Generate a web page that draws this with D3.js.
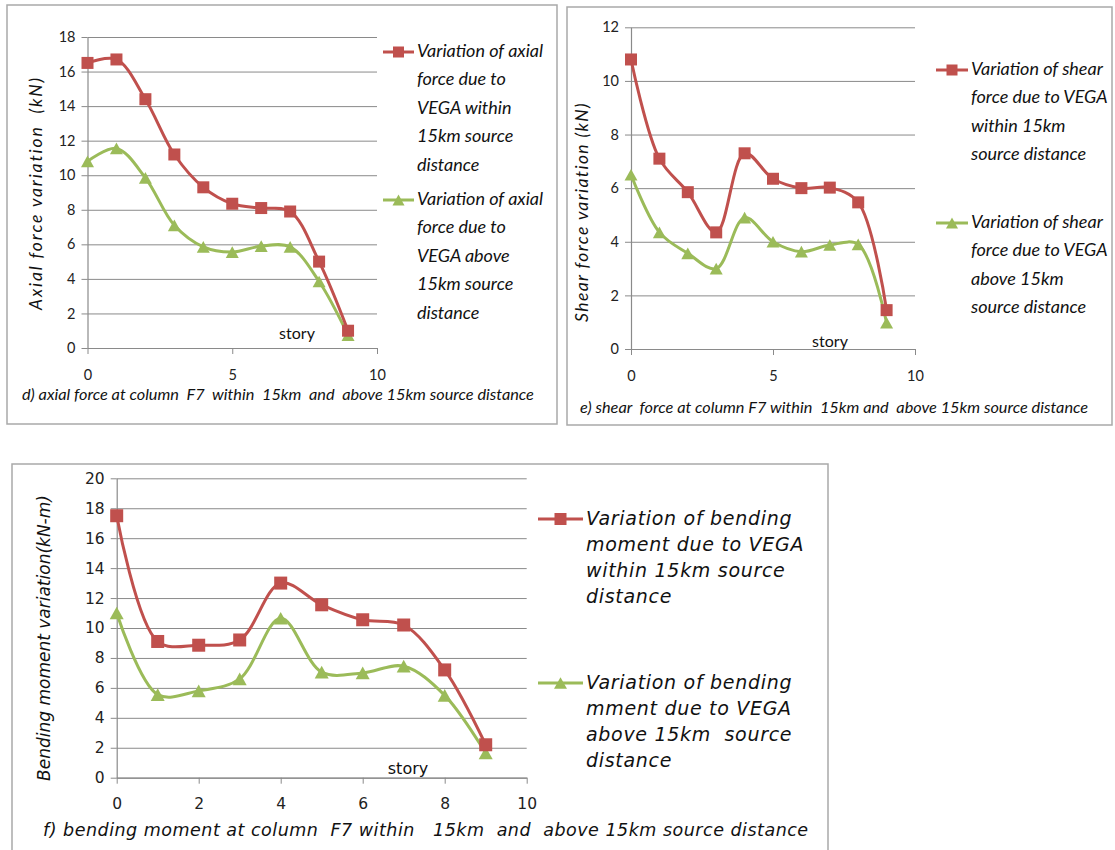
<!DOCTYPE html>
<html>
<head>
<meta charset="utf-8">
<script src="https://cdn.jsdelivr.net/npm/d3@7"></script>
<style>
  html, body { margin: 0; padding: 0; background: #fff; }
  svg { display: block; }
</style>
</head>
<body>
<svg id="chart" width="1115" height="850"></svg>
<script>
// Story numbers along the column
const stories = [0, 1, 2, 3, 4, 5, 6, 7, 8, 9];

// d) axial force at column F7 (kN)
const axialWithin = [16.5, 16.7, 14.4, 11.2, 9.3, 8.35, 8.1, 7.9, 5.0, 1.0];
const axialAbove  = [10.8, 11.55, 9.85, 7.1, 5.85, 5.55, 5.9, 5.85, 3.85, 0.75];

// e) shear force at column F7 (kN)
const shearWithin = [10.8, 7.1, 5.85, 4.35, 7.3, 6.35, 6.0, 6.02, 5.47, 1.45];
const shearAbove  = [6.5, 4.35, 3.57, 3.0, 4.9, 4.0, 3.63, 3.88, 3.9, 0.98];

// f) bending moment at column F7 (kN-m)
const momentWithin = [17.5, 9.1, 8.85, 9.2, 13.0, 11.55, 10.55, 10.2, 7.2, 2.2];
const momentAbove  = [11.0, 5.55, 5.8, 6.6, 10.65, 7.05, 7.0, 7.45, 5.5, 1.65];

// Tick labels
const axialYTicks = [0, 2, 4, 6, 8, 10, 12, 14, 16, 18];
const shearYTicks = [0, 2, 4, 6, 8, 10, 12];
const momentYTicks = [0, 2, 4, 6, 8, 10, 12, 14, 16, 18, 20];
const xTicksCoarse = [0, 5, 10];
const xTicksFine = [0, 2, 4, 6, 8, 10];

// Legend texts
const axialLegend = [
  ["Variation of axial", "force due to", "VEGA within", "15km source", "distance"],
  ["Variation of axial", "force due to", "VEGA above", "15km source", "distance"]
];
const shearLegend = [
  ["Variation of shear", "force due to VEGA", "within 15km", "source distance"],
  ["Variation of shear", "force due to VEGA", "above 15km", "source distance"]
];
const momentLegend = [
  ["Variation of bending", "moment due to VEGA", "within 15km source", "distance"],
  ["Variation of bending", "mment due to VEGA", "above 15km  source", "distance"]
];

const RED = "#C0504D";
const GREEN = "#9BBB59";
const GRID = "#8a8a8a";
const FRAME = "#a9a9a9";

const svg = d3.select("#chart");

const panels = [
  {
    frame: [7, 5, 550, 419],
    xr: [87.5, 377], yr: [348, 37], ymax: 18,
    xTicks: xTicksCoarse, yTicks: axialYTicks,
    within: axialWithin, above: axialAbove,
    font: "Lato, 'Open Sans', sans-serif", tickSize: 14.5, xPad: 16,
    yTitle: "Axial force variation  (kN)", yTitlePos: [38, 193], yTitleSize: 17.5, yTitleSpacing: 1.9,
    caption: "d) axial force at column  F7  within  15km  and  above 15km source distance",
    captionPos: [22, 400], captionSize: 16.3, captionSpacing: 0,
    storyPos: [297, 339], storySize: 16,
    legend: axialLegend, legendX: 383, legendLine: 31, legendY: [52, 200], legendStep: 28.5,
    legendSize: 18, legendSpacing: 0, marker: 12
  },
  {
    frame: [567, 7, 545, 418],
    xr: [631, 915], yr: [349, 27.3], ymax: 12,
    xTicks: xTicksCoarse, yTicks: shearYTicks,
    within: shearWithin, above: shearAbove,
    font: "Lato, 'Open Sans', sans-serif", tickSize: 14.5, xPad: 16,
    yTitle: "Shear force variation (kN)", yTitlePos: [584, 212], yTitleSize: 17.5, yTitleSpacing: 1.4,
    caption: "e) shear  force at column F7 within  15km and  above 15km source distance",
    captionPos: [580, 413], captionSize: 16.3, captionSpacing: 0,
    storyPos: [830, 347], storySize: 16,
    legend: shearLegend, legendX: 936, legendLine: 32, legendY: [70, 223], legendStep: 28.5,
    legendSize: 18, legendSpacing: 0, marker: 12
  },
  {
    frame: [12, 464, 816, 400],
    xr: [116.7, 526.7], yr: [777.7, 478.3], ymax: 20,
    xTicks: xTicksFine, yTicks: momentYTicks,
    within: momentWithin, above: momentAbove,
    font: "'DejaVu Sans', Verdana, sans-serif", tickSize: 15.5, xPad: 14,
    yTitle: "Bending moment variation(kN-m)", yTitlePos: [45, 638], yTitleSize: 17, yTitleSpacing: 0,
    caption: "f) bending moment at column  F7 within   15km  and  above 15km source distance",
    captionPos: [43, 836], captionSize: 17.5, captionSpacing: 0.5,
    storyPos: [408, 774], storySize: 16,
    legend: momentLegend, legendX: 538, legendLine: 45, legendY: [519, 683], legendStep: 26.2,
    legendSize: 19, legendSpacing: 0.7, marker: 13
  }
];

// Triangle centred on its bounding box
function trianglePath(s) {
  const h = s * 0.9;
  return `M0,${-h / 2}L${s / 2},${h / 2}L${-s / 2},${h / 2}Z`;
}

function drawMarker(g, kind, cx, cy, s, color) {
  if (kind === "square") {
    g.append("rect")
      .attr("x", cx - s / 2).attr("y", cy - s / 2)
      .attr("width", s).attr("height", s)
      .attr("fill", color);
  } else {
    g.append("path")
      .attr("d", trianglePath(s + 1))
      .attr("transform", `translate(${cx},${cy})`)
      .attr("fill", color);
  }
}

panels.forEach(p => {
  const g = svg.append("g");

  // Frame around the chart
  g.append("rect")
    .attr("x", p.frame[0]).attr("y", p.frame[1])
    .attr("width", p.frame[2]).attr("height", p.frame[3])
    .attr("fill", "#fff").attr("stroke", FRAME).attr("stroke-width", 1.5);

  const x = d3.scaleLinear().domain([0, 10]).range(p.xr);
  const y = d3.scaleLinear().domain([0, p.ymax]).range(p.yr);

  // Horizontal gridlines
  g.append("g")
    .attr("transform", `translate(${p.xr[0]},0)`)
    .call(d3.axisLeft(y).tickValues(p.yTicks).tickSize(-(p.xr[1] - p.xr[0])).tickFormat(""))
    .call(a => a.select(".domain").remove())
    .call(a => a.selectAll("line").attr("stroke", GRID).attr("stroke-width", 1));

  // Y axis with outer ticks and labels
  const yAxis = g.append("g")
    .attr("transform", `translate(${p.xr[0]},0)`)
    .call(d3.axisLeft(y).tickValues(p.yTicks).tickSize(6).tickPadding(6).tickSizeOuter(0));
  yAxis.select(".domain").attr("stroke", GRID).attr("stroke-width", 1.2);
  yAxis.selectAll("line").attr("stroke", GRID);
  yAxis.selectAll("text")
    .attr("font-family", p.font).attr("font-size", p.tickSize).attr("fill", "#222");

  // X axis
  const xAxis = g.append("g")
    .attr("transform", `translate(0,${p.yr[0]})`)
    .call(d3.axisBottom(x).tickValues(p.xTicks).tickSize(6).tickPadding(p.xPad).tickSizeOuter(0));
  xAxis.select(".domain").attr("stroke", GRID).attr("stroke-width", 1.2);
  xAxis.selectAll("line").attr("stroke", GRID);
  xAxis.selectAll("text")
    .attr("font-family", p.font).attr("font-size", p.tickSize).attr("fill", "#222");

  // Axis title
  g.append("text")
    .attr("transform", `translate(${p.yTitlePos[0]},${p.yTitlePos[1]}) rotate(-90)`)
    .attr("text-anchor", "middle").attr("dominant-baseline", "middle")
    .attr("font-family", p.font).attr("font-style", "italic")
    .attr("font-size", p.yTitleSize).attr("letter-spacing", p.yTitleSpacing)
    .attr("fill", "#111").style("white-space", "pre")
    .text(p.yTitle);

  // "story" label inside the plot
  g.append("text")
    .attr("x", p.storyPos[0]).attr("y", p.storyPos[1])
    .attr("text-anchor", "middle")
    .attr("font-family", p.font).attr("font-size", p.storySize).attr("fill", "#111")
    .text("story");

  // Caption
  g.append("text")
    .attr("x", p.captionPos[0]).attr("y", p.captionPos[1])
    .attr("font-family", p.font).attr("font-style", "italic")
    .attr("font-size", p.captionSize).attr("letter-spacing", p.captionSpacing)
    .attr("fill", "#111")
    .style("white-space", "pre")
    .text(p.caption);

  // Smoothed series lines with markers
  const line = d3.line()
    .x((d, i) => x(stories[i]))
    .y(d => y(d))
    .curve(d3.curveCatmullRom.alpha(0.5));

  const series = [
    { values: p.within, color: RED, kind: "square" },
    { values: p.above, color: GREEN, kind: "triangle" }
  ];

  series.slice().reverse().forEach(s => {
    g.append("path")
      .datum(s.values)
      .attr("d", line)
      .attr("fill", "none")
      .attr("stroke", s.color)
      .attr("stroke-width", 3)
      .attr("stroke-linejoin", "round");
  });
  series.slice().reverse().forEach(s => {
    s.values.forEach((v, i) => drawMarker(g, s.kind, x(stories[i]), y(v), p.marker, s.color));
  });

  // Legend
  series.forEach((s, k) => {
    const ly = p.legendY[k];
    g.append("line")
      .attr("x1", p.legendX).attr("x2", p.legendX + p.legendLine)
      .attr("y1", ly).attr("y2", ly)
      .attr("stroke", s.color).attr("stroke-width", 3);
    drawMarker(g, s.kind, p.legendX + p.legendLine / 2, ly, p.marker - 1, s.color);
    const t = g.append("text")
      .attr("font-family", p.font).attr("font-style", "italic")
      .attr("font-size", p.legendSize).attr("letter-spacing", p.legendSpacing)
      .attr("fill", "#111")
      .style("white-space", "pre");
    p.legend[k].forEach((ln, j) => {
      t.append("tspan")
        .attr("x", p.legendX + p.legendLine + 3)
        .attr("y", ly + j * p.legendStep)
        .attr("dominant-baseline", "middle")
        .text(ln);
    });
  });
});
</script>
</body>
</html>
